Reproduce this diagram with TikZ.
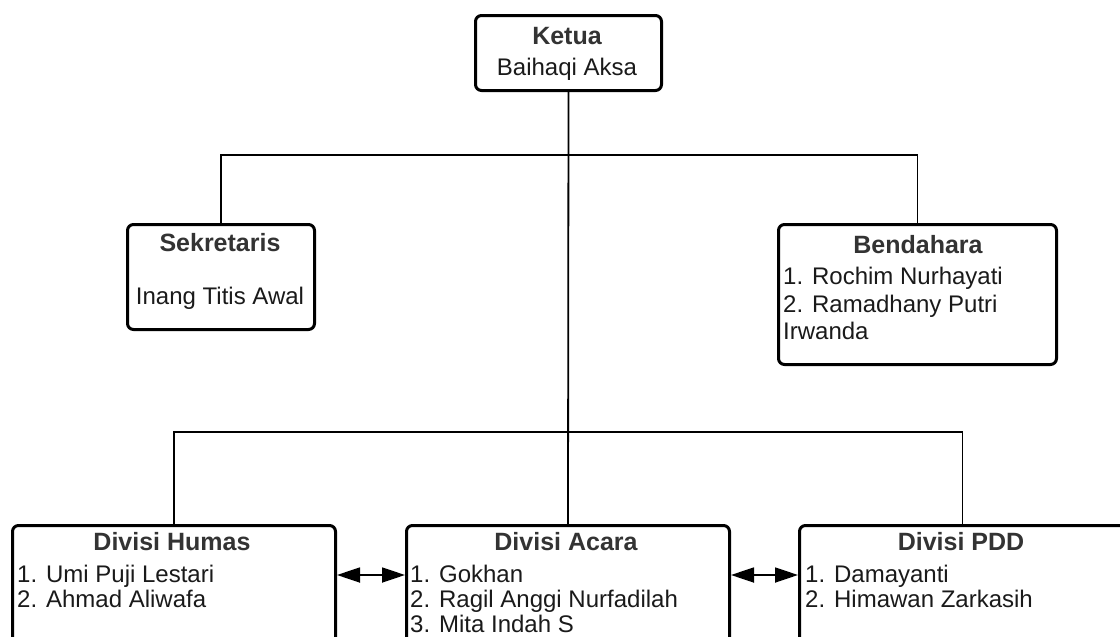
\documentclass[tikz,border=0pt]{standalone}
\usepackage{fontspec}
\setmainfont{Liberation Sans}
\usetikzlibrary{arrows.meta}
\definecolor{titlegrey}{HTML}{333333}
\definecolor{bodyblack}{HTML}{1A1A1A}
\tikzset{
  box/.style={draw=black, line width=3pt, rounded corners=6pt, fill=white, inner sep=0pt, anchor=north west},
  conn/.style={draw=black, line width=1.8pt},
  biarrow/.style={draw=black, line width=1.8pt, {Triangle[length=23pt 0 0,width=15pt 0 0]}-{Triangle[length=23pt 0 0,width=15pt 0 0]}},
  ttl/.style={anchor=base, inner sep=0pt, text=titlegrey, font=\fontsize{25}{28}\selectfont\bfseries},
  bodytxt/.style={anchor=base west, inner sep=0pt, text=bodyblack, font=\fontsize{24}{26}\selectfont},
  bodyc/.style={anchor=base, inner sep=0pt, text=bodyblack, font=\fontsize{24}{26}\selectfont}
}
\begin{document}
\begin{tikzpicture}[x=1pt,y=-1pt]
\useasboundingbox (0,0) rectangle (1120,637);
% boxes
\node[box, minimum width=186pt, minimum height=75pt] (ketua) at (474,14) {};
\node[box, minimum width=187pt, minimum height=105pt] (sek) at (126,223) {};
\node[box, minimum width=278pt, minimum height=140pt] (bend) at (777,223) {};
\node[box, minimum width=323pt, minimum height=130pt] (humas) at (11,524) {};
\node[box, minimum width=323pt, minimum height=130pt] (acara) at (405,524) {};
\node[box, minimum width=326pt, minimum height=130pt] (pdd) at (798,524) {};
% bus coordinates
\coordinate (busA) at (567,155);
\coordinate (busB) at (567,432);
\coordinate (arrY) at (0,575);
% connectors
\draw[conn] (ketua.south) -- (acara.north);
\draw[conn] (sek.north) -- (sek.north |- busA) -- (bend.north |- busA) -- (bend.north);
\draw[conn] (humas.north) -- (humas.north |- busB) -- (pdd.north |- busB) -- (pdd.north);
\draw[biarrow] (humas.east |- arrY) -- (acara.west |- arrY);
\draw[biarrow] (acara.east |- arrY) -- (pdd.west |- arrY);
% texts
\node[ttl] (tketua) at (567,45) {Ketua};
\node[bodyc] (nketua) at (567,75) {Baihaqi Aksa};
\node[ttl] (tsek) at (220,251) {Sekretaris};
\node[bodyc] (nsek) at (220,304) {Inang Titis Awal};
\node[ttl] (tbend) at (918,253) {Bendahara};
\node[bodytxt] (b1) at (783,284) {1. Rochim Nurhayati};
\node[bodytxt] (b2) at (783,312) {2. Ramadhany Putri};
\node[bodytxt] (b3) at (783,339) {Irwanda};
\node[ttl] (thumas) at (172,550) {Divisi Humas};
\node[bodytxt] (h1) at (17,582) {1. Umi Puji Lestari};
\node[bodytxt] (h2) at (17,607) {2. Ahmad Aliwafa};
\node[ttl] (tacara) at (566,550) {Divisi Acara};
\node[bodytxt] (a1) at (410,582) {1. Gokhan};
\node[bodytxt] (a2) at (410,607) {2. Ragil Anggi Nurfadilah};
\node[bodytxt] (a3) at (410,632) {3. Mita Indah S};
\node[ttl] (tpdd) at (961,550) {Divisi PDD};
\node[bodytxt] (p1) at (805,582) {1. Damayanti};
\node[bodytxt] (p2) at (805,607) {2. Himawan Zarkasih};
\end{tikzpicture}
\end{document}
